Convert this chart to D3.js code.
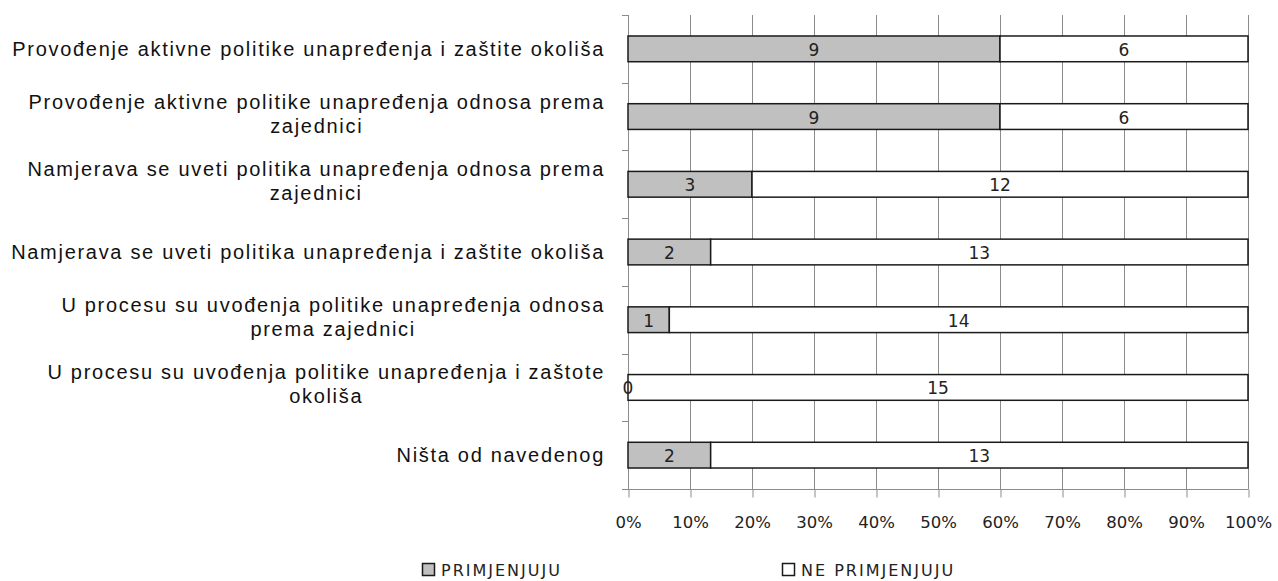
<!DOCTYPE html>
<html><head><meta charset="utf-8">
<script src="https://cdn.jsdelivr.net/npm/d3@7"></script>
<style>body{margin:0;background:#fff}svg{display:block}</style>
</head><body><svg id="c" width="1278" height="581"></svg>
<script>
const categories = [
  "Provođenje aktivne politike unapređenja i zaštite okoliša",
  "Provođenje aktivne politike unapređenja odnosa prema zajednici",
  "Namjerava se uveti politika unapređenja odnosa prema zajednici",
  "Namjerava se uveti politika unapređenja i zaštite okoliša",
  "U procesu su uvođenja politike unapređenja odnosa prema zajednici",
  "U procesu su uvođenja politike unapređenja i zaštote okoliša",
  "Ništa od navedenog"
];
const primjenjuju = [9, 9, 3, 2, 1, 0, 2];
const nePrimjenjuju = [6, 6, 12, 13, 14, 15, 13];
const seriesNames = ["PRIMJENJUJU", "NE PRIMJENJUJU"];
const xTicks = [0, 0.1, 0.2, 0.3, 0.4, 0.5, 0.6, 0.7, 0.8, 0.9, 1];

const svg = d3.select("#c");
const L = 628, R = 1248, T = 15, B = 489;
const x = d3.scaleLinear().domain([0, 1]).range([L, R]);
const y = d3.scaleBand().domain(categories).range([T, B]).paddingInner(0.62).paddingOuter(0.31);

// grid
svg.append("g").selectAll("line").data(xTicks.slice(1)).join("line")
  .attr("x1", d => x(d) + 0.5).attr("x2", d => x(d) + 0.5).attr("y1", T).attr("y2", B)
  .attr("stroke", "#8c8c8c").attr("stroke-width", 1);

// x axis
const xa = svg.append("g").attr("transform", `translate(0,${B + 0.5})`)
  .call(d3.axisBottom(x).tickValues(xTicks).tickFormat(d3.format(".0%")).tickSize(8).tickPadding(19));
xa.select(".domain").attr("stroke", "#8c8c8c").attr("d", `M${L},0H${R + 0.5}`);
xa.selectAll(".tick line").attr("stroke", "#8c8c8c").attr("transform", "translate(0.5,0)");
xa.selectAll("text").attr("font-family", "DejaVu Sans").attr("font-size", 16.5).attr("fill", "#222");

// y axis line with ticks at band boundaries
const step = (B - T) / categories.length;
const bounds = d3.range(categories.length + 1).map(i => T + i * step);
svg.append("line").attr("x1", L + 0.5).attr("x2", L + 0.5).attr("y1", T).attr("y2", B).attr("stroke", "#8c8c8c");
svg.append("g").selectAll("line").data(bounds).join("line")
  .attr("x1", L - 6).attr("x2", L + 0.5).attr("y1", d => Math.round(d) + 0.5).attr("y2", d => Math.round(d) + 0.5)
  .attr("stroke", "#8c8c8c");

// bars
const data = categories.map((c, i) => {
  const tot = primjenjuju[i] + nePrimjenjuju[i];
  return { c, a: primjenjuju[i], b: nePrimjenjuju[i], pa: primjenjuju[i] / tot };
});
const bars = svg.append("g");
data.forEach(d => {
  bars.append("rect").attr("x", x(0)).attr("y", y(d.c)).attr("width", x(d.pa) - x(0)).attr("height", y.bandwidth())
    .attr("fill", "#c0c0c0").attr("stroke", "#1a1a1a").attr("stroke-width", 1.5);
  bars.append("rect").attr("x", x(d.pa)).attr("y", y(d.c)).attr("width", x(1) - x(d.pa)).attr("height", y.bandwidth())
    .attr("fill", "#fff").attr("stroke", "#1a1a1a").attr("stroke-width", 1.5);
  const cy = y(d.c) + y.bandwidth() / 2;
  bars.append("text").attr("x", (x(0) + x(d.pa)) / 2).attr("y", cy + 7)
    .attr("text-anchor", "middle").attr("font-family", "DejaVu Sans").attr("font-size", 17).attr("fill", "#222").text(d.a);
  bars.append("text").attr("x", (x(d.pa) + x(1)) / 2).attr("y", cy + 7)
    .attr("text-anchor", "middle").attr("font-family", "DejaVu Sans").attr("font-size", 17).attr("fill", "#222").text(d.b);
});

// category labels, wrapped, lines centered, block right aligned
const labG = svg.append("g").attr("font-family", "Liberation Sans").attr("font-size", 20).attr("fill", "#111")
  .attr("letter-spacing", "1.7px");
const maxW = 600, rightX = 605, lh = 24;
const meas = labG.append("text");
function w(s) { meas.text(s); return meas.node().getComputedTextLength(); }
data.forEach(d => {
  const words = d.c.split(" ");
  const lines = []; let cur = "";
  words.forEach(wd => {
    const t = cur ? cur + " " + wd : wd;
    if (w(t) > maxW && cur) { lines.push(cur); cur = wd; } else cur = t;
  });
  lines.push(cur);
  const bw = d3.max(lines, l => w(l));
  const cx = rightX - bw / 2;
  const cy = y(d.c) + y.bandwidth() / 2 + (lines.length > 1 ? -3 : 0);
  const t = labG.append("text").attr("text-anchor", "middle");
  lines.forEach((l, k) => {
    t.append("tspan").attr("x", cx).attr("y", cy + (k - (lines.length - 1) / 2) * lh + 7).text(l);
  });
});
meas.remove();

// legend
const legX = [422, 782];
const lg = svg.append("g").attr("font-family", "DejaVu Sans").attr("font-size", 16).attr("fill", "#222")
  .attr("letter-spacing", "2px");
seriesNames.forEach((s, i) => {
  lg.append("rect").attr("x", legX[i] + 0.5).attr("y", 563.5).attr("width", 12).attr("height", 12)
    .attr("fill", i === 0 ? "#c0c0c0" : "#fff").attr("stroke", "#1a1a1a").attr("stroke-width", 1.5);
  lg.append("text").attr("x", legX[i] + 19).attr("y", 576).text(s);
});
</script></body></html>
